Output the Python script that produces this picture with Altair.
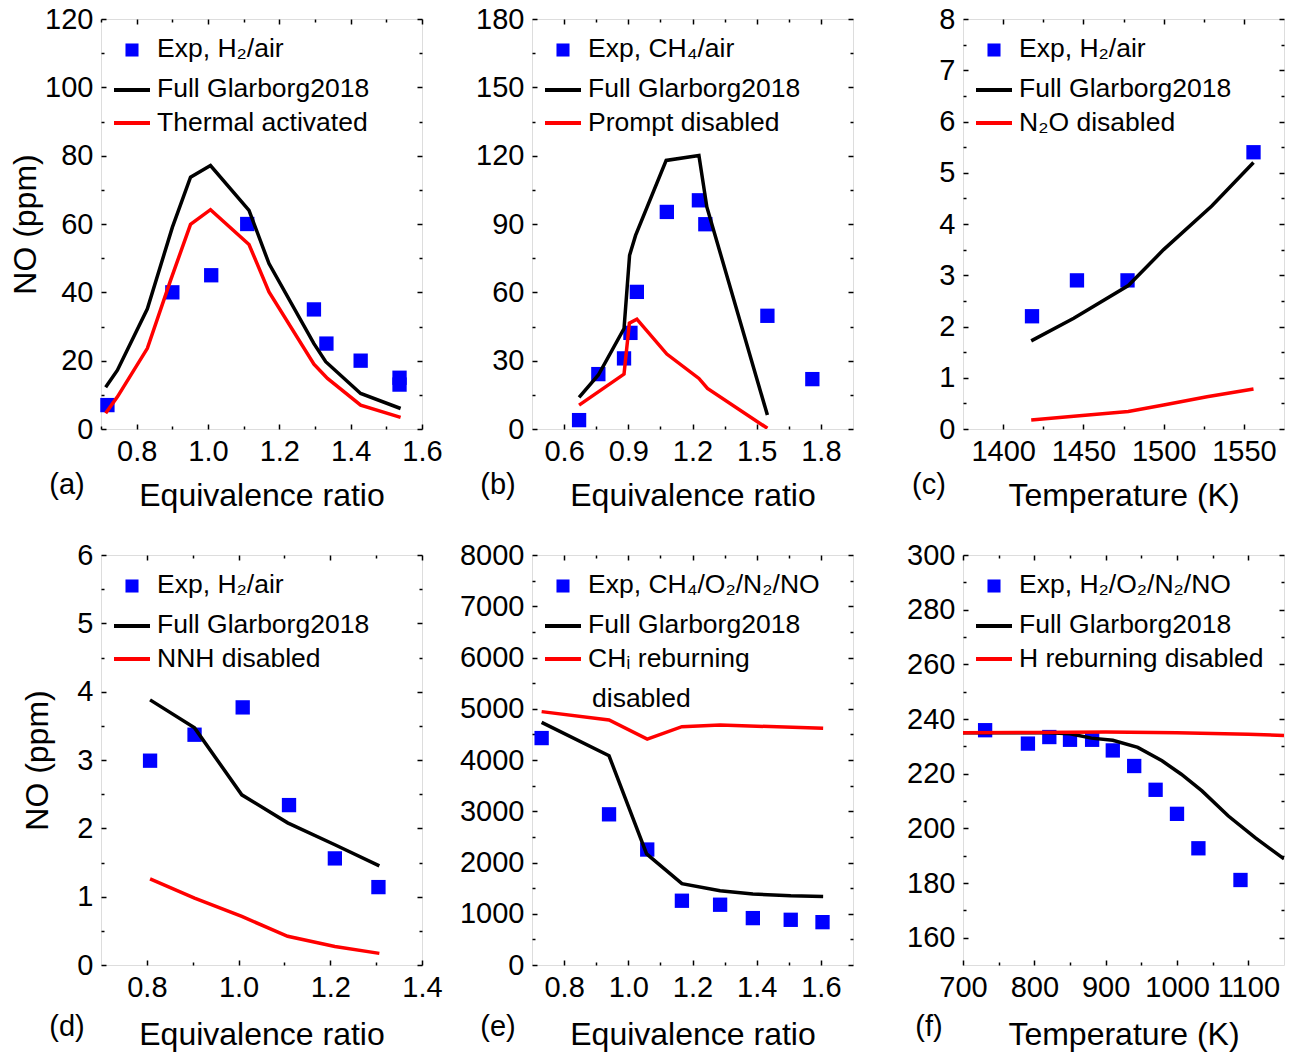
import altair as alt
import pandas as pd

# ---------------- data ----------------
# (a) H2/air, NO vs equivalence ratio
a_exp_x = [0.718, 0.90, 1.009, 1.11, 1.297, 1.332, 1.428, 1.537, 1.537]
a_exp_y = [7.0, 40, 45, 60, 35, 25, 20, 15, 13]
a_full_x = [0.713, 0.746, 0.83, 0.90, 0.951, 1.007, 1.115, 1.171, 1.297, 1.33, 1.428, 1.54]
a_full_y = [12.2, 17.2, 35.2, 59, 73.7, 77.1, 64, 48.4, 25, 19.7, 10.4, 6.0]
a_red_x = [0.713, 0.746, 0.83, 0.895, 0.951, 1.007, 1.115, 1.171, 1.297, 1.335, 1.428, 1.54]
a_red_y = [4.6, 9.4, 23.6, 43.5, 59.9, 64.2, 54, 40.1, 19, 14.8, 7.0, 3.4]

# (b) CH4/air
b_exp_x = [0.67, 0.76, 0.88, 0.91, 0.94, 1.08, 1.23, 1.26, 1.55, 1.76]
b_exp_y = [3.9, 24.1, 31, 42.2, 60.2, 95.3, 100.4, 89.9, 49.7, 21.9]
b_full_x = [0.67, 0.76, 0.88, 0.906, 0.934, 1.077, 1.23, 1.267, 1.55]
b_full_y = [13.9, 23.7, 44.1, 76.3, 85, 117.9, 120.1, 97.5, 6.1]
b_red_x = [0.67, 0.88, 0.905, 0.94, 1.08, 1.23, 1.27, 1.55]
b_red_y = [10.5, 24.1, 46.5, 48.2, 32.9, 22.2, 17.8, 0.3]

# (c) H2/air vs temperature
c_exp_x = [1418, 1446, 1477.5, 1556]
c_exp_y = [2.2, 2.9, 2.9, 5.4]
c_full_x = [1417.5, 1444, 1478, 1500, 1530, 1556]
c_full_y = [1.72, 2.16, 2.8, 3.5, 4.35, 5.2]
c_red_x = [1417.5, 1444, 1478, 1500, 1527, 1556]
c_red_y = [0.175, 0.25, 0.34, 0.47, 0.63, 0.78]

# (d) H2/air
d_exp_x = [0.807, 0.904, 1.009, 1.11, 1.21, 1.305]
d_exp_y = [2.99, 3.37, 3.77, 2.34, 1.56, 1.14]
d_full_x = [0.807, 0.904, 1.007, 1.107, 1.21, 1.307]
d_full_y = [3.88, 3.47, 2.49, 2.08, 1.76, 1.45]
d_red_x = [0.807, 0.904, 1.007, 1.107, 1.21, 1.307]
d_red_y = [1.26, 0.98, 0.71, 0.42, 0.27, 0.17]

# (e) CH4/O2/N2/NO
e_exp_x = [0.73, 0.94, 1.059, 1.167, 1.286, 1.388, 1.506, 1.605]
e_exp_y = [4428, 2940, 2253, 1254, 1176, 915, 882, 836]
e_full_x = [0.73, 0.94, 1.057, 1.167, 1.286, 1.388, 1.506, 1.607]
e_full_y = [4735, 4082, 2168, 1587, 1450, 1385, 1352, 1339]
e_red_x = [0.73, 0.94, 1.059, 1.167, 1.286, 1.607]
e_red_y = [4944, 4781, 4409, 4650, 4683, 4618]

# (f) H2/O2/N2/NO vs temperature
f_exp_x = [731, 791, 821, 850, 881, 910, 940, 970, 1000, 1030, 1089]
f_exp_y = [235.9, 231, 233.4, 232.4, 232.4, 228.5, 222.8, 214.1, 205.3, 192.7, 181.1]
f_full_x = [700, 760, 820, 850, 880, 910, 945, 979, 1006, 1035, 1072, 1110, 1150]
f_full_y = [235, 235, 235, 234.6, 233, 232.2, 229.6, 224.7, 219.8, 213.7, 204.5, 196.5, 188.8]
f_red_x = [700, 800, 900, 1000, 1100, 1150]
f_red_y = [235.0, 235.1, 235.2, 235.0, 234.4, 234.0]

# axis ticks
a_xticks = [0.8, 1.0, 1.2, 1.4, 1.6]; a_xminor = [0.7, 0.9, 1.1, 1.3, 1.5]
a_yticks = [0, 20, 40, 60, 80, 100, 120]; a_yminor = [10, 30, 50, 70, 90, 110]
b_xticks = [0.6, 0.9, 1.2, 1.5, 1.8]; b_xminor = [0.75, 1.05, 1.35, 1.65]
b_yticks = [0, 30, 60, 90, 120, 150, 180]; b_yminor = [15, 45, 75, 105, 135, 165]
c_xticks = [1400, 1450, 1500, 1550]; c_xminor = [1425, 1475, 1525]
c_yticks = [0, 1, 2, 3, 4, 5, 6, 7, 8]; c_yminor = [0.5, 1.5, 2.5, 3.5, 4.5, 5.5, 6.5, 7.5]
d_xticks = [0.8, 1.0, 1.2, 1.4]; d_xminor = [0.9, 1.1, 1.3]
d_yticks = [0, 1, 2, 3, 4, 5, 6]; d_yminor = [0.5, 1.5, 2.5, 3.5, 4.5, 5.5]
e_xticks = [0.8, 1.0, 1.2, 1.4, 1.6]; e_xminor = [0.9, 1.1, 1.3, 1.5]
e_yticks = [0, 1000, 2000, 3000, 4000, 5000, 6000, 7000, 8000]
e_yminor = [500, 1500, 2500, 3500, 4500, 5500, 6500, 7500]
f_xticks = [700, 800, 900, 1000, 1100]; f_xminor = [750, 850, 950, 1050]
f_yticks = [160, 180, 200, 220, 240, 260, 280, 300]; f_yminor = [170, 190, 210, 230, 250, 270, 290]

legend_a = ["Exp, H\u2082/air", "Full Glarborg2018", "Thermal activated"]
legend_b = ["Exp, CH\u2084/air", "Full Glarborg2018", "Prompt disabled"]
legend_c = ["Exp, H\u2082/air", "Full Glarborg2018", "N\u2082O disabled"]
legend_d = ["Exp, H\u2082/air", "Full Glarborg2018", "NNH disabled"]
legend_e = ["Exp, CH\u2084/O\u2082/N\u2082/NO", "Full Glarborg2018", "CH\u1d62 reburning", "disabled"]
legend_f = ["Exp, H\u2082/O\u2082/N\u2082/NO", "Full Glarborg2018", "H reburning disabled"]

# ---------------- styling ----------------
W, H = 321, 410
FONT = "Liberation Sans"
BLUE, RED = "#0000FF", "#FF0000"
TICK_FS, TITLE_FS, LEG_FS = 29, 32, 26.5


def ax(**kw):
    base = dict(grid=False, domain=False, labelFont=FONT, titleFont=FONT,
                labelColor="black", titleColor="black", tickColor="black",
                tickWidth=1.5)
    base.update(kw)
    return alt.Axis(**base)


def panel(tag, tag_dy, exp_x, exp_y, full_x, full_y, red_x, red_y,
          xdom, ydom, xt, xm, yt, ym, xfmt, xtitle, ytitle, ytp, legend):
    exp = pd.DataFrame({"x": exp_x, "y": exp_y})
    full = pd.DataFrame({"x": full_x, "y": full_y})
    red = pd.DataFrame({"x": red_x, "y": red_y})
    xs = alt.Scale(domain=xdom, nice=False, zero=False)
    ys = alt.Scale(domain=ydom, nice=False, zero=False)

    x_lab = ax(orient="bottom", values=xt, format=xfmt, ticks=False, tickSize=0,
               labelFontSize=TICK_FS, labelPadding=8, labelFlush=False,
               labelOverlap=False, title=xtitle, titleFontSize=TITLE_FS,
               titleFontWeight="normal", titlePadding=14 + tag_dy / 2)
    yargs = dict(orient="left", values=yt, format="d", ticks=False, tickSize=0,
                 labelFontSize=TICK_FS, labelPadding=8, labelFlush=False,
                 labelOverlap=False)
    if ytitle:
        y_lab = ax(title=ytitle, titleFontSize=TITLE_FS, titleFontWeight="normal",
                   titlePadding=ytp, **yargs)
    else:
        y_lab = ax(title=None, **yargs)

    def tick_ax(orient, off, vals, size):
        return ax(orient=orient, offset=off, values=vals, labels=False,
                  tickSize=size, title=None)

    pts = alt.Chart(exp).mark_square(size=205, color=BLUE, opacity=1).encode(
        x=alt.X("x:Q", scale=xs, axis=x_lab),
        y=alt.Y("y:Q", scale=ys, axis=y_lab))
    blk = alt.Chart(full).mark_line(color="black", strokeWidth=3.5, clip=True).encode(
        x=alt.X("x:Q", scale=xs, axis=tick_ax("top", -H, xt, 5)),
        y=alt.Y("y:Q", scale=ys, axis=tick_ax("right", -W, yt, 5)))
    rd = alt.Chart(red).mark_line(color=RED, strokeWidth=3.5, clip=True).encode(
        x=alt.X("x:Q", scale=xs, axis=tick_ax("top", -H, xm, 3)),
        y=alt.Y("y:Q", scale=ys, axis=tick_ax("right", -W, ym, 3)))
    inv1 = alt.Chart(exp).mark_point(opacity=0).encode(
        x=alt.X("x:Q", scale=xs, axis=tick_ax("bottom", -H, xt, 5)),
        y=alt.Y("y:Q", scale=ys, axis=tick_ax("left", -W, yt, 5)))
    inv2 = alt.Chart(exp).mark_point(opacity=0).encode(
        x=alt.X("x:Q", scale=xs, axis=tick_ax("bottom", -H, xm, 3)),
        y=alt.Y("y:Q", scale=ys, axis=tick_ax("left", -W, ym, 3)))

    dummy = pd.DataFrame({"k": [0]})
    layers = [pts, blk, rd, inv1, inv2]
    # legend (inside the plot, top-left)
    layers.append(alt.Chart(dummy).mark_square(size=170, color=BLUE, opacity=1).encode(
        x=alt.value(31), y=alt.value(31)))
    layers.append(alt.Chart(dummy).mark_rule(color="black", strokeWidth=4).encode(
        x=alt.value(13), x2=alt.value(49), y=alt.value(71)))
    layers.append(alt.Chart(dummy).mark_rule(color=RED, strokeWidth=4).encode(
        x=alt.value(13), x2=alt.value(49), y=alt.value(104)))
    rows_y = [30, 70, 104, 144]
    rows_x = [56, 56, 56, 60]
    for i, lbl in enumerate(legend):
        layers.append(alt.Chart(dummy).mark_text(
            font=FONT, fontSize=LEG_FS, align="left", baseline="middle", color="black"
        ).encode(x=alt.value(rows_x[i]), y=alt.value(rows_y[i]), text=alt.value(lbl)))
    # panel tag
    layers.append(alt.Chart(dummy).mark_text(
        font=FONT, fontSize=TICK_FS, align="center", baseline="middle", color="black"
    ).encode(x=alt.value(-34), y=alt.value(H + 56 + tag_dy), text=alt.value(tag)))

    return alt.layer(*layers).resolve_axis(x="independent", y="independent").properties(
        width=W, height=H)


pa = panel("(a)", 0, a_exp_x, a_exp_y, a_full_x, a_full_y, a_red_x, a_red_y,
           [0.7, 1.6], [0, 120], a_xticks, a_xminor, a_yticks, a_yminor, ".1f",
           "Equivalence ratio", "NO (ppm)", 2, legend_a)
pb = panel("(b)", 0, b_exp_x, b_exp_y, b_full_x, b_full_y, b_red_x, b_red_y,
           [0.45, 1.95], [0, 180], b_xticks, b_xminor, b_yticks, b_yminor, ".1f",
           "Equivalence ratio", None, 0, legend_b)
pc = panel("(c)", 0, c_exp_x, c_exp_y, c_full_x, c_full_y, c_red_x, c_red_y,
           [1375, 1575], [0, 8], c_xticks, c_xminor, c_yticks, c_yminor, "d",
           "Temperature (K)", None, 0, legend_c)
pd_ = panel("(d)", 6, d_exp_x, d_exp_y, d_full_x, d_full_y, d_red_x, d_red_y,
            [0.7, 1.4], [0, 6], d_xticks, d_xminor, d_yticks, d_yminor, ".1f",
            "Equivalence ratio", "NO (ppm)", 22, legend_d)
pe = panel("(e)", 6, e_exp_x, e_exp_y, e_full_x, e_full_y, e_red_x, e_red_y,
           [0.7, 1.7], [0, 8000], e_xticks, e_xminor, e_yticks, e_yminor, ".1f",
           "Equivalence ratio", None, 0, legend_e)
pf = panel("(f)", 6, f_exp_x, f_exp_y, f_full_x, f_full_y, f_red_x, f_red_y,
           [700, 1150], [150, 300], f_xticks, f_xminor, f_yticks, f_yminor, "d",
           "Temperature (K)", None, 0, legend_f)

chart = alt.concat(pa, pb, pc, pd_, pe, pf, columns=3,
                   spacing={"row": 126, "column": 110}, bounds="flush").properties(
    padding={"left": 9, "top": 4, "right": 4, "bottom": 4},
    background="white",
).configure_view(stroke="black", strokeWidth=2).configure(font=FONT)

chart.save("out.html", embed_options={"renderer": "svg", "actions": False})
